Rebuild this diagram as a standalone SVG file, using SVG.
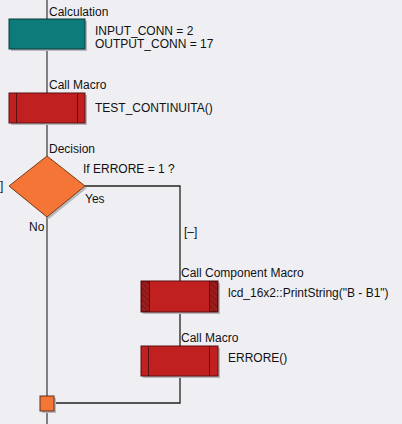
<svg xmlns="http://www.w3.org/2000/svg" width="402" height="424" viewBox="0 0 402 424">
<style>
text{font-family:"Liberation Sans",Arial,sans-serif;font-size:12px;fill:#111}
.ln{stroke:#444;stroke-width:1.3;fill:none}
.br{stroke:#222;stroke-width:1.3;fill:none}
.sh{fill:#b8b8bc}
.red{fill:#c0201f;stroke:#5a1010;stroke-width:1}
.in{stroke:#5a1010;stroke-width:1}
</style>
<defs>
<pattern id="hatch" width="4" height="4" patternUnits="userSpaceOnUse" patternTransform="rotate(-45)">
<rect width="4" height="4" fill="#a01c1c"/>
<line x1="0" y1="0" x2="0" y2="4" stroke="#5a1010" stroke-width="1.2"/>
</pattern>
</defs>
<rect width="402" height="424" fill="#efeff3"/>
<g id="connectors">
<line class="ln" x1="47" y1="0" x2="47" y2="424"/>
<polyline class="br" points="85,186 180,186 180,403 47,403"/>
</g>
<g id="calculation">
<rect class="sh" x="11" y="21" width="76" height="30"/>
<rect x="9" y="19" width="76" height="30" fill="#0d7b7a" stroke="#0b3b3b" stroke-width="1"/>
<text x="49" y="16">Calculation</text>
<text x="95" y="35">INPUT_CONN = 2</text>
<text x="95" y="48">OUTPUT_CONN = 17</text>
</g>
<g id="callmacro1">
<rect class="sh" x="11" y="95" width="76" height="30"/>
<rect class="red" x="9" y="93" width="76" height="30"/>
<line class="in" x1="16.5" y1="93" x2="16.5" y2="123"/>
<line class="in" x1="77.5" y1="93" x2="77.5" y2="123"/>
<text x="49" y="89">Call Macro</text>
<text x="95" y="112">TEST_CONTINUITA()</text>
</g>
<g id="decision">
<polygon points="49,158 87,188 49,219 11,188" fill="#b8b8bc"/>
<polygon points="47,156 85,186 47,217 9,186" fill="#f47536" stroke="#7a3a1a" stroke-width="1"/>
<text x="49" y="153">Decision</text>
<text x="83" y="173">If ERRORE = 1 ?</text>
<text x="85" y="203">Yes</text>
<text x="29" y="231">No</text>
<text x="0" y="190" fill="#333">]</text>
<text x="184" y="236" fill="#333">[–]</text>
</g>
<g id="callcomponentmacro">
<rect class="sh" x="143" y="283" width="77" height="31"/>
<rect class="red" x="141" y="281" width="77" height="31"/>
<rect x="141.5" y="281.5" width="8" height="30" fill="url(#hatch)" stroke="#5a1010" stroke-width="1"/>
<rect x="209.5" y="281.5" width="8" height="30" fill="url(#hatch)" stroke="#5a1010" stroke-width="1"/>
<text x="181" y="277">Call Component Macro</text>
<text x="228" y="297">lcd_16x2::PrintString("B - B1")</text>
</g>
<g id="callmacro2">
<rect class="sh" x="143" y="348" width="77" height="30"/>
<rect class="red" x="141" y="346" width="77" height="30"/>
<line class="in" x1="148.5" y1="346" x2="148.5" y2="376"/>
<line class="in" x1="209.5" y1="346" x2="209.5" y2="376"/>
<text x="181" y="342">Call Macro</text>
<text x="228" y="362">ERRORE()</text>
</g>
<g id="junction">
<rect class="sh" x="42" y="398" width="14" height="15"/>
<rect x="40" y="396" width="14" height="15" fill="#f47536" stroke="#5a3020" stroke-width="1"/>
</g>
</svg>
